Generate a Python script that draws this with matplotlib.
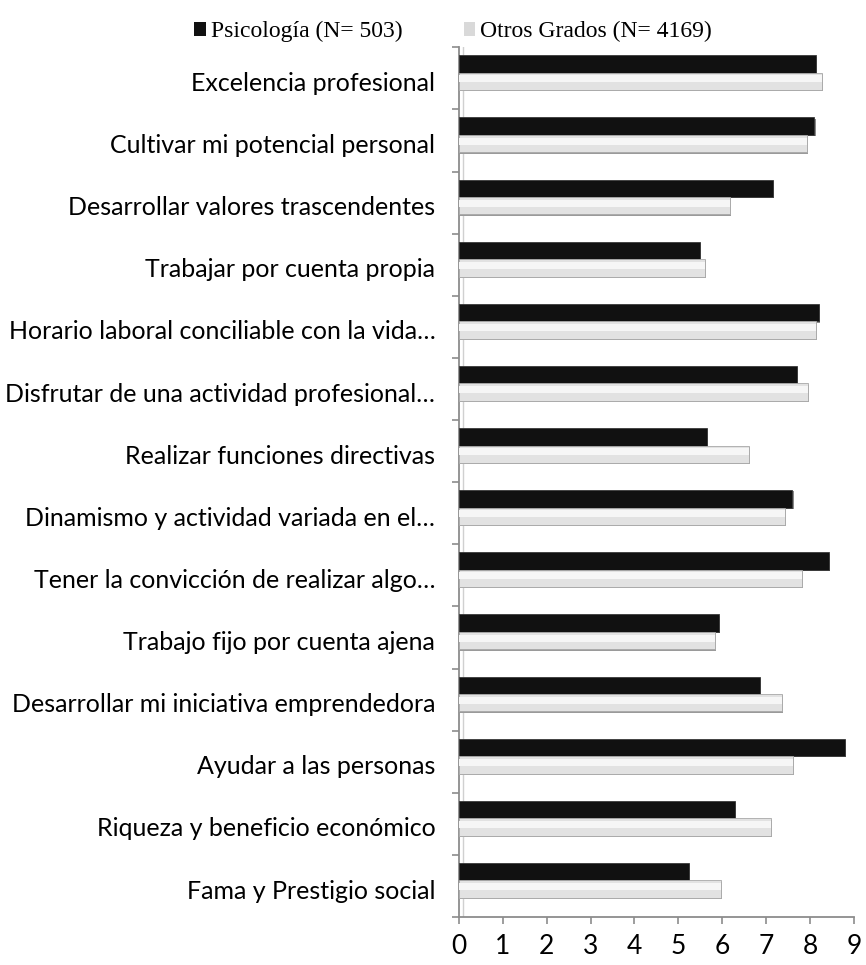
import numpy as np
import matplotlib
matplotlib.use("Agg")
import matplotlib.pyplot as plt
from matplotlib.patches import Patch

categories = [
    "Excelencia profesional",
    "Cultivar mi potencial personal",
    "Desarrollar valores trascendentes",
    "Trabajar por cuenta propia",
    "Horario laboral conciliable con la vida…",
    "Disfrutar de una actividad profesional…",
    "Realizar funciones directivas",
    "Dinamismo y actividad variada en el…",
    "Tener la convicción de realizar algo…",
    "Trabajo fijo por cuenta ajena",
    "Desarrollar mi iniciativa emprendedora",
    "Ayudar a las personas",
    "Riqueza y beneficio económico",
    "Fama y Prestigio social",
]
psicologia = [8.13, 8.10, 7.15, 5.49, 8.20, 7.70, 5.65, 7.60, 8.43, 5.92, 6.86, 8.79, 6.29, 5.24]
otros = [8.27, 7.93, 6.17, 5.60, 8.13, 7.95, 6.60, 7.43, 7.81, 5.83, 7.36, 7.61, 7.11, 5.97]
labels = ["Psicología (N= 503)", "Otros Grados (N= 4169)"]
xticks = list(range(0, 10))

fig = plt.figure(figsize=(8.66, 9.65), dpi=100)
ax = fig.add_axes([0.530, 0.0497, 0.456, 0.9013])

y = np.arange(len(categories))
h = 0.28
axis_grey = "#8c8c8c"

# shadow for a rough 3D look
ax.barh(y - 0.21, psicologia, height=h, left=0.03, color="#8a8a8a", zorder=2)
ax.barh(y + 0.07, otros, height=h, left=0.03, color="#9a9a9a", zorder=2)
ax.barh(y - 0.23, psicologia, height=h, color="#111111", edgecolor="#3a3a3a",
        linewidth=0.6, zorder=3)
ax.barh(y + 0.05, otros, height=h, color="#e2e2e2", edgecolor="#a8a8a8",
        linewidth=0.6, zorder=3)
# soft highlight on the light bars
ax.barh(y + 0.01, otros, height=h * 0.4, color="#f6f6f6", zorder=4)

ax.set_xlim(0, 9)
ax.set_ylim(len(categories) - 0.5, -0.5)
ax.set_xticks(xticks)
ax.set_xticklabels([str(t) for t in xticks], fontfamily="Lato", fontsize=19)
ax.set_yticks(y + 0.05)
ax.set_yticklabels(categories, fontfamily="Lato", fontsize=18)
ax.set_yticks(np.arange(len(categories) + 1) - 0.5, minor=True)
ax.tick_params(axis="y", which="major", length=0, pad=17)
ax.tick_params(axis="y", which="minor", length=5, color=axis_grey, width=1.2)
ax.tick_params(axis="x", length=5, color=axis_grey, width=1.2, pad=7)

for s in ["top", "right"]:
    ax.spines[s].set_visible(False)
for s in ["left", "bottom"]:
    ax.spines[s].set_color(axis_grey)
    ax.spines[s].set_linewidth(1.3)

# back wall line
ax.axvline(0.1, color="#d0d0d0", linewidth=1, zorder=1)

handles = [Patch(facecolor="#111111"), Patch(facecolor="#d9d9d9")]
fig.legend(handles, labels, loc="upper center", bbox_to_anchor=(0.523, 1.0),
           ncol=2, frameon=False, handlelength=0.5, handleheight=0.5,
           handletextpad=0.2, columnspacing=2.6,
           prop={"family": "Liberation Serif", "size": 17})

fig.savefig("out.png", dpi=100)
